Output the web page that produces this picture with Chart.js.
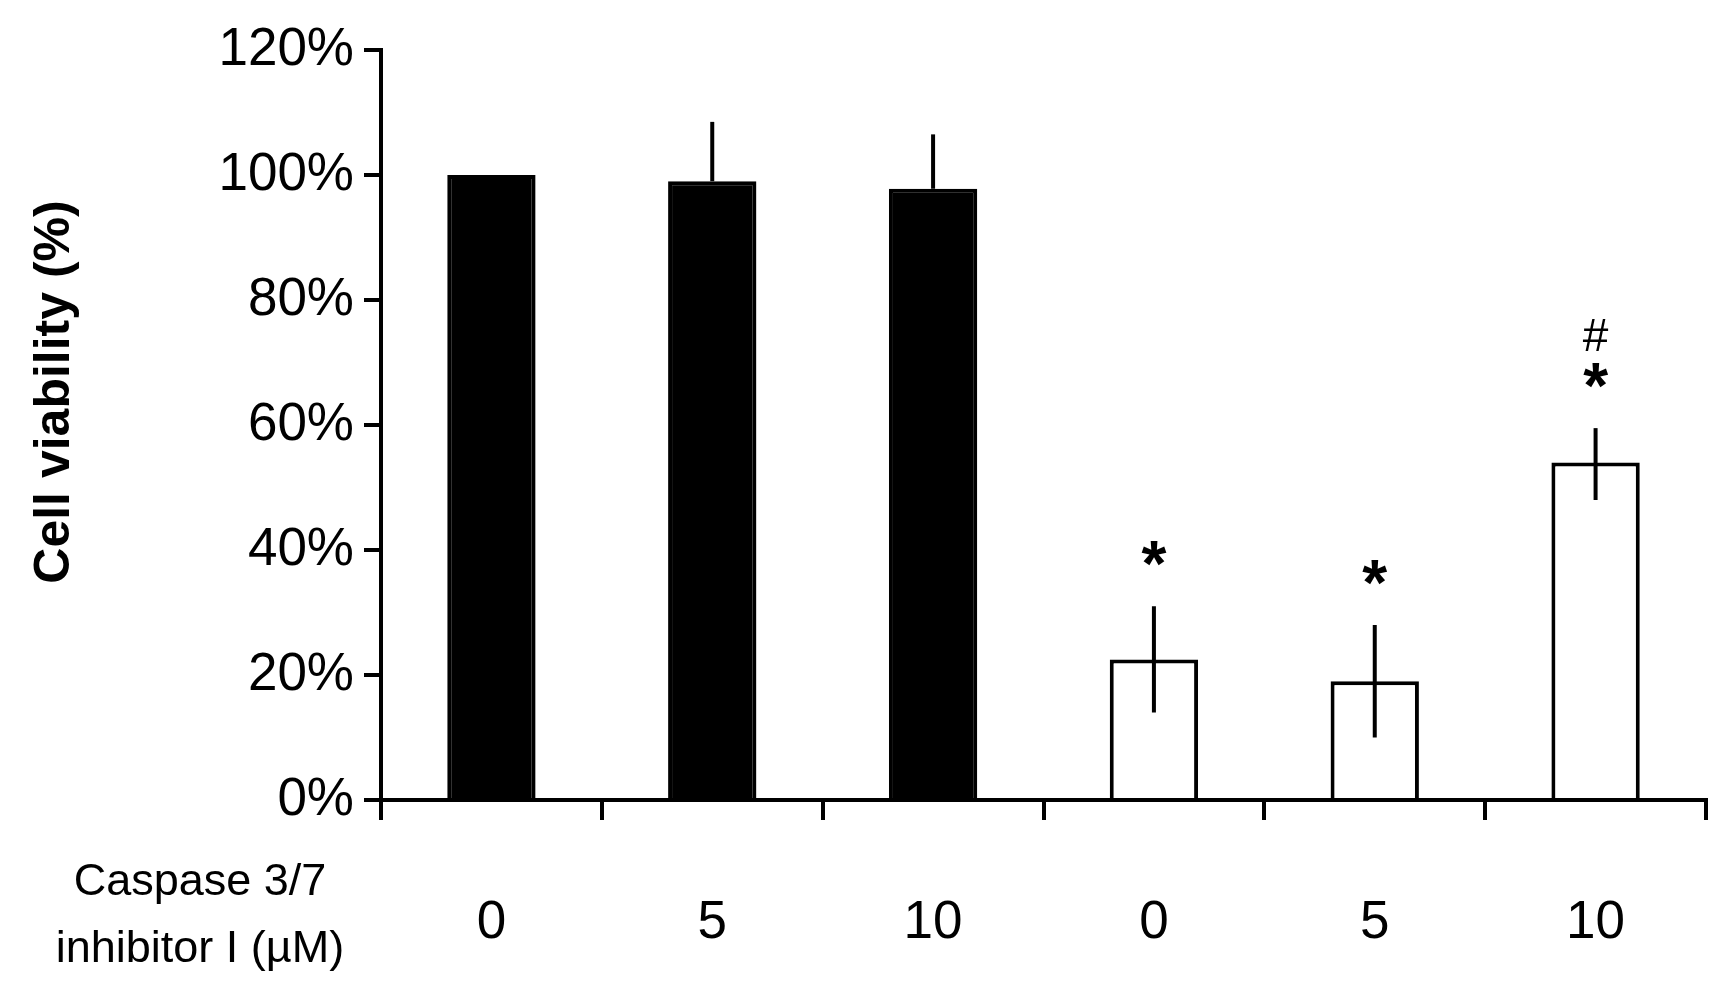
<!DOCTYPE html>
<html>
<head>
<script src="https://cdn.jsdelivr.net/npm/chart.js@4"></script>
<style>body{margin:0;background:#fff}#wrap{width:1723px;height:1000px}</style>
</head>
<body>
<div id="wrap"><canvas id="c"></canvas></div>
<script>
var doses = ['0', '5', '10', '0', '5', '10'];
var viability = [100, 99, 97.8, 22.5, 19, 54];
var errLow = [100, 99, 97.8, 14, 10, 48];
var errHigh = [100, 108.5, 106.5, 31, 28, 59.5];
var marks = [[], [], [], ['*'], ['*'], ['*', '#']];
var fills = ['#000', '#000', '#000', '#fff', '#fff', '#fff'];

var extras = {
    id: 'extras',
    afterDatasetsDraw: function(chart) {
        var ctx = chart.ctx, x = chart.scales.x, y = chart.scales.y;
        ctx.save();
        ctx.strokeStyle = '#000';
        ctx.lineWidth = 4;
        for (var i = 0; i < viability.length; i++) {
            var px = x.getPixelForValue(i);
            ctx.beginPath();
            ctx.moveTo(px, y.getPixelForValue(errLow[i]));
            ctx.lineTo(px, y.getPixelForValue(errHigh[i]));
            ctx.stroke();
            ctx.fillStyle = '#000';
            ctx.textAlign = 'center';
            ctx.textBaseline = 'middle';
            var top = y.getPixelForValue(errHigh[i]);
            for (var k = 0; k < marks[i].length; k++) {
                if (marks[i][k] == '*') {
                    ctx.font = 'bold 64px Arial, "Liberation Sans"';
                    ctx.fillText('*', px, top - 38 - k * 55);
                } else {
                    ctx.font = '46px Arial, "Liberation Sans"';
                    ctx.fillText('#', px, top - 35 - k * 55);
                }
            }
        }
        ctx.font = 'bold 50px Arial, "Liberation Sans"';
        ctx.translate(55, 392);
        ctx.rotate(-Math.PI / 2);
        ctx.fillText('Cell viability (%)', 0, 0);
        ctx.restore();
        ctx.save();
        ctx.fillStyle = '#000';
        ctx.font = '45px Arial, "Liberation Sans"';
        ctx.textAlign = 'center';
        ctx.textBaseline = 'middle';
        ctx.fillText('Caspase 3/7', 200, 883);
        ctx.fillText('inhibitor I (\u00b5M)', 200, 950);
        ctx.restore();
    }
};

new Chart(document.getElementById('c'), {
    type: 'bar',
    data: {
        labels: doses,
        datasets: [{
            data: viability,
            backgroundColor: fills,
            borderColor: '#000',
            borderWidth: 4,
            barPercentage: 0.4,
            categoryPercentage: 1
        }]
    },
    options: {
        responsive: true,
        maintainAspectRatio: false,
        animation: false,
        layout: { padding: { top: 50, right: 17, left: 0, bottom: 0 } },
        plugins: { legend: { display: false }, tooltip: { enabled: false } },
        scales: {
            x: {
                offset: true,
                grid: { offset: true, drawOnChartArea: false, color: '#000', lineWidth: 4, tickLength: 20 },
                border: { color: '#000', width: 4 },
                ticks: { color: '#000', font: { size: 53, family: 'Arial, "Liberation Sans"' }, padding: 72 },
                afterFit: function(s) { s.height = 200; }
            },
            y: {
                min: 0, max: 120,
                grid: { drawOnChartArea: false, color: '#000', lineWidth: 4, tickLength: 17 },
                border: { color: '#000', width: 4 },
                ticks: {
                    stepSize: 20, color: '#000', padding: 10,
                    font: { size: 53, family: 'Arial, "Liberation Sans"' },
                    callback: function(v) { return v + '%'; }
                },
                afterFit: function(s) { s.width = 381; }
            }
        }
    },
    plugins: [extras]
});
</script>
</body>
</html>
